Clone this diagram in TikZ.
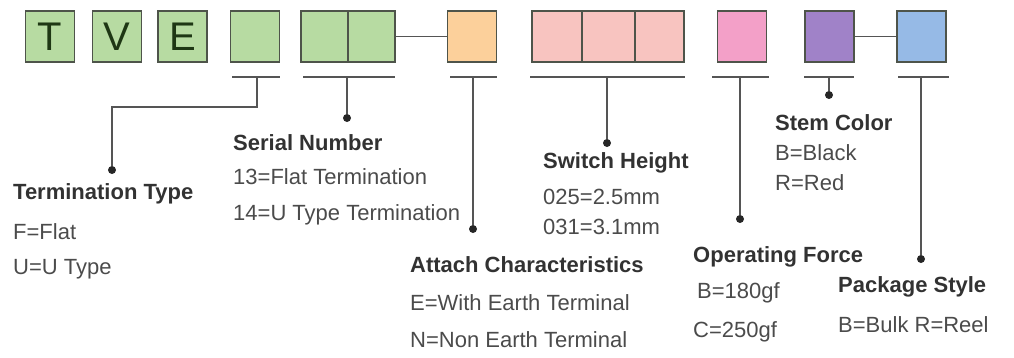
\documentclass[tikz,border=0pt]{standalone}
\usepackage{fontspec}
\setmainfont{Liberation Sans}
\usetikzlibrary{positioning}

\definecolor{verde}{RGB}{183,219,162}
\definecolor{arancio}{RGB}{252,208,155}
\definecolor{salmone}{RGB}{248,196,192}
\definecolor{rosa}{RGB}{243,160,200}
\definecolor{viola}{RGB}{160,130,200}
\definecolor{azzurro}{RGB}{150,186,230}
\definecolor{bordo}{RGB}{78,84,74}
\definecolor{linea}{RGB}{85,85,85}
\definecolor{testoScuro}{RGB}{50,50,50}
\definecolor{testoChiaro}{RGB}{75,75,75}
\definecolor{lettera}{RGB}{30,55,20}

\tikzset{
  cella/.style={draw=bordo, line width=1.8pt, minimum width=49pt, minimum height=51pt,
    inner sep=0pt, font=\fontsize{40}{40}\selectfont, text=lettera},
  barra/.style={draw=linea, line width=1.8pt},
  filo/.style={draw=linea, line width=1.8pt},
  punto/.style={circle, fill=black!85, inner sep=0pt, minimum size=8pt},
  titolo/.style={anchor=west, inner sep=0pt, font=\fontsize{22}{22}\selectfont\bfseries, text=testoScuro},
  voce/.style={anchor=west, inner sep=0pt, font=\fontsize{22}{22}\selectfont, text=testoChiaro}
}

\begin{document}
\begin{tikzpicture}[x=1pt, y=-1pt]

			\useasboundingbox (0,0) rectangle (1014,357);

			% Celle del codice
			\node[cella, fill=verde] (qT) at (50,36.5) {T};
			\node[cella, fill=verde] (qV) at (117,36.5) {V};
			\node[cella, fill=verde] (qE) at (182.5,36.5) {E};
			\node[cella, fill=verde] (qTerm) at (255,36.5) {};
			\node[cella, fill=verde, minimum width=47pt] (qSerA) at (324.5,36.5) {};
			\node[cella, fill=verde, minimum width=47pt] (qSerB) at (371.5,36.5) {};
			\node[cella, fill=arancio] (qAtt) at (472,36.5) {};
			\node[cella, fill=salmone, minimum width=50pt] (qAltA) at (557,36.5) {};
			\node[cella, fill=salmone, minimum width=53pt] (qAltB) at (608.5,36.5) {};
			\node[cella, fill=salmone, minimum width=49pt] (qAltC) at (659.5,36.5) {};
			\node[cella, fill=rosa] (qForza) at (742,36.5) {};
			\node[cella, fill=viola] (qStelo) at (829.5,36.5) {};
			\node[cella, fill=azzurro] (qPack) at (921.5,36.5) {};

			% Trattini di collegamento
			\draw[filo] (qSerB.east) -- (qAtt.west);
			\draw[filo] (qStelo.east) -- (qPack.west);

			% Barre sotto le celle
			\draw[barra] (232,77) -- (280,77);
			\draw[barra] (303,77) -- (395,77);
			\draw[barra] (450,77) -- (497,77);
			\draw[barra] (530,77) -- (685,77);
			\draw[barra] (712,77) -- (769,77);
			\draw[barra] (804,77) -- (854,77);
			\draw[barra] (898,77) -- (949,77);
			\coordinate (bTerm) at (257,77);
			\coordinate (bSer) at (347,77);
			\coordinate (bAtt) at (473,77);
			\coordinate (bAlt) at (607,77);
			\coordinate (bForza) at (740,77);
			\coordinate (bStelo) at (829,77);
			\coordinate (bPack) at (921,77);

			% Punti terminali
			\node[punto] (dTerm) at (112,170) {};
			\node[punto] (dSer) at (347,118) {};
			\node[punto] (dAtt) at (473,229) {};
			\node[punto] (dAlt) at (607,143) {};
			\node[punto] (dForza) at (740,219) {};
			\node[punto] (dStelo) at (829,95) {};
			\node[punto] (dPack) at (921,259) {};

			% Linee verso i punti
			\draw[filo] (bTerm) -- ++(0,30) -| (dTerm);
			\draw[filo] (bSer) -- (dSer);
			\draw[filo] (bAtt) -- (dAtt);
			\draw[filo] (bAlt) -- (dAlt);
			\draw[filo] (bForza) -- (dForza);
			\draw[filo] (bStelo) -- (dStelo);
			\draw[filo] (bPack) -- (dPack);

			% Termination Type
			\node[titolo] (tTerm) at (13,194) {Termination Type};
			\node[voce] (tTermA) at (13,232) {F=Flat};
			\node[voce] (tTermB) at (13,269) {U=U Type};

			% Serial Number
			\node[titolo] (tSer) at (233,143) {Serial Number};
			\node[voce] (tSerA) at (233,177) {13=Flat Termination};
			\node[voce] (tSerB) at (233,215) {14=U Type Termination};

			% Attach Characteristics
			\node[titolo] (tAtt) at (410,265) {Attach Characteristics};
			\node[voce] (tAttA) at (410,303) {E=With Earth Terminal};
			\node[voce] (tAttB) at (410,340) {N=Non Earth Terminal};

			% Switch Height
			\node[titolo] (tAlt) at (543,163) {Switch Height};
			\node[voce] (tAltA) at (543,197) {025=2.5mm};
			\node[voce] (tAltB) at (543,227) {031=3.1mm};

			% Operating Force
			\node[titolo] (tForza) at (693,257) {Operating Force};
			\node[voce] (tForzaA) at (697,293) {B=180gf};
			\node[voce] (tForzaB) at (693,332) {C=250gf};

			% Stem Color
			\node[titolo] (tStelo) at (775,123) {Stem Color};
			\node[voce] (tSteloA) at (775,153) {B=Black};
			\node[voce] (tSteloB) at (775,183) {R=Red};

			% Package Style
			\node[titolo] (tPack) at (838,287) {Package Style};
			\node[voce] (tPackA) at (838,325) {B=Bulk R=Reel};

\end{tikzpicture}
\end{document}
